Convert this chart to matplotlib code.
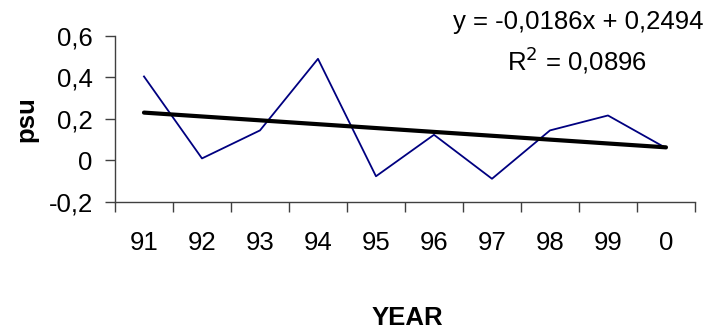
import numpy as np
import matplotlib.pyplot as plt

plt.rcParams['font.family'] = ['Liberation Sans', 'DejaVu Sans']

years = ["91", "92", "93", "94", "95", "96", "97", "98", "99", "0"]
psu = [0.405, 0.01, 0.145, 0.49, -0.076, 0.124, -0.088, 0.145, 0.217, 0.06]
slope = -0.0186
intercept = 0.2494
r2 = 0.0896

fs = 18.5

fig = plt.figure(figsize=(7.08, 3.33), dpi=100)
ax = fig.add_axes([0.1624, 0.3934, 0.8192, 0.4985])

x = np.arange(1, len(years) + 1)
ax.plot(x, psu, color="#000080", lw=1.3)
ax.plot(x, slope * x + intercept, color="black", lw=3, solid_capstyle="round")

ax.set_xlim(0.5, len(years) + 0.5)
ax.set_ylim(-0.2, 0.6)
ax.set_yticks([-0.2, 0, 0.2, 0.4, 0.6])
ax.set_yticklabels(["-0,2", "0", "0,2", "0,4", "0,6"])
ax.set_xticks(np.arange(0.5, len(years) + 1))
ax.set_xticklabels([])
ax.set_xticks(x, minor=True)
ax.set_xticklabels(years, minor=True)

for s in ["top", "right"]:
    ax.spines[s].set_visible(False)
for s in ["left", "bottom"]:
    ax.spines[s].set_color("#404040")
    ax.spines[s].set_linewidth(1)

ax.tick_params(which="major", length=7, width=1, color="#404040", labelsize=fs, pad=9)
ax.tick_params(axis="x", which="minor", length=0, labelsize=fs, pad=21)

ax.set_ylabel("psu", fontsize=fs, fontweight="bold", labelpad=7)
fig.text(0.575, 0.045, "YEAR", fontsize=fs, fontweight="bold", ha="center", va="center")

eq = f"y = {slope:.4f}x + {intercept:.4f}".replace(".", ",")
fig.text(0.993, 0.935, eq, fontsize=fs, ha="right", va="center")
fig.text(0.815, 0.82, "R$^2$ = " + f"{r2:.4f}".replace(".", ","), fontsize=fs,
         ha="center", va="center")

fig.savefig("out.png", dpi=100)
